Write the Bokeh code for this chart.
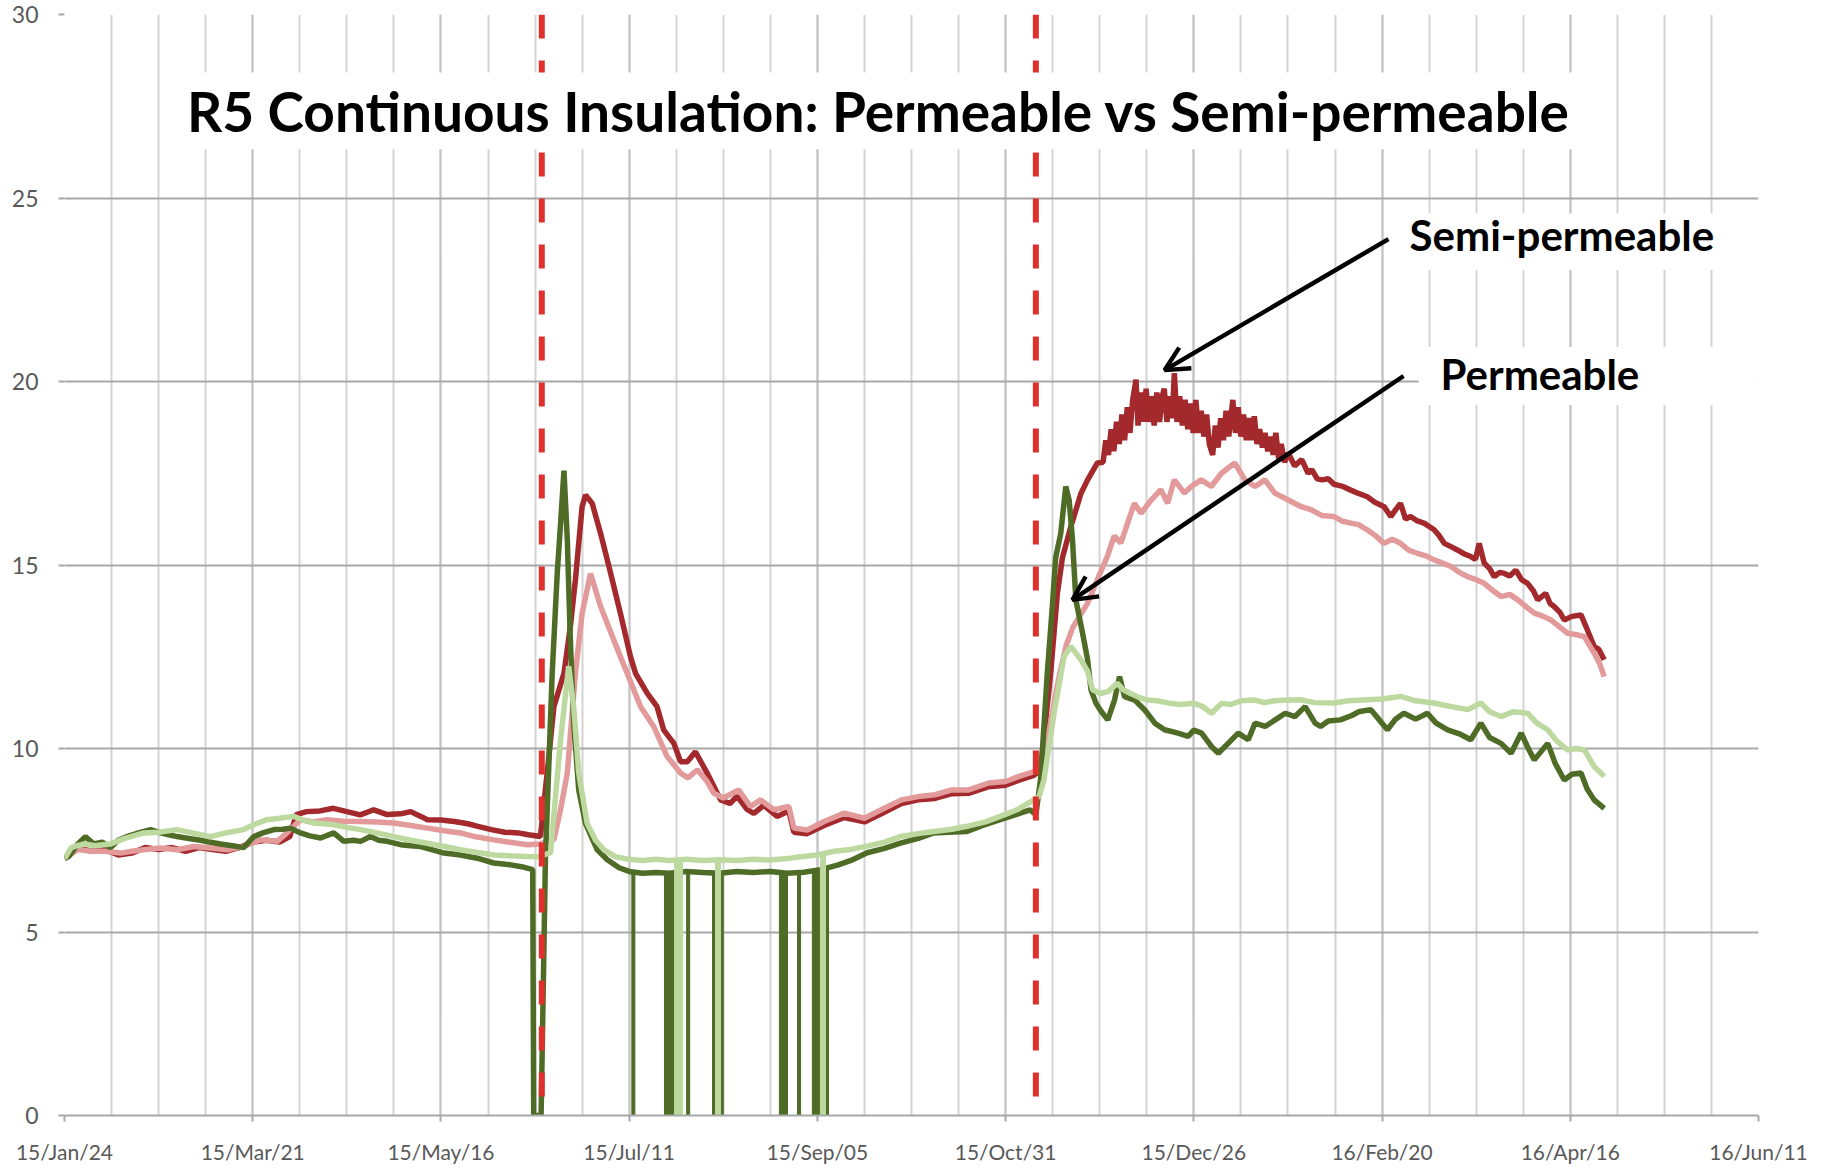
import numpy as np
from bokeh.plotting import figure
from bokeh.models import (Range1d, FixedTicker, DatetimeTickFormatter, Span,
                          BoxAnnotation, Label, Arrow, OpenHead, ColumnDataSource)
from bokeh.embed import file_html
from bokeh.resources import INLINE

# ---------------- data (day offset from 2015-01-24, value) ----------------
START = "2015-01-24"
tick_dates = ["2015-01-24", "2015-03-21", "2015-05-16", "2015-07-11", "2015-09-05",
              "2015-10-31", "2015-12-26", "2016-02-20", "2016-04-16", "2016-06-11"]
y_ticks = [0, 5, 10, 15, 20, 25, 30]
event_dates = ["2015-06-15", "2015-11-09"]

semi_dark = [(0,7.0),(4,7.3),(8,7.2),(12,7.25),(16,7.1),(20,7.15),(24,7.3),(28,7.25),(32,7.3),(36,7.2),
 (40,7.3),(44,7.25),(48,7.2),(52,7.3),(56,7.45),(60,7.5),(64,7.45),(67,7.6),(69,8.2),(72,8.28),(76,8.3),
 (80,8.37),(84,8.28),(88,8.19),(92,8.33),(96,8.2),(100,8.22),(103,8.28),(106,8.15),(108,8.06),(112,8.05),
 (116,8.01),(120,7.95),(123,7.88),(127,7.79),(131,7.72),(135,7.7),(138,7.65),(141.6,7.6),(143.6,9.33),
 (145.6,11.14),(148.6,12.05),(150.5,13.32),(152,14.59),(154,16.59),(155,16.91),(157,16.68),(159.5,15.86),
 (162.5,14.77),(165.4,13.68),(168.4,12.5),(169.9,12.05),(173.4,11.5),(176.3,11.14),(178.3,10.5),(181.3,10.14),
 (183.3,9.64),(185.3,9.64),(187.7,9.91),(191.2,9.33),(195.2,8.6),(198,8.5),(200.1,8.7),(203,8.35),(205.1,8.23),
 (208,8.45),(212,8.15),(215.5,8.3),(217,7.72),(221,7.68),(226,7.9),(232,8.12),(238,8.0),(243,8.22),(249,8.5),
 (254,8.6),(259,8.64),(264,8.77),(269,8.78),(275,8.96),(280,9.0),(284,9.14),(288.4,9.27),(290.4,9.42),
 (293.4,12.05),(295.4,14.23),(296.9,15.2),(299.4,16.04),(302.4,16.95),(304.4,17.32),(307.3,17.78),
 (309.0,17.8),(309.8,18.4),(310.6,18.0),(311.4,18.7),(312.2,18.1),(313.0,18.9),(313.8,18.3),(314.6,19.1),
 (315.4,18.4),(316.2,19.3),(317.0,18.6),(317.8,19.5),(318.8,20.05),(319.4,18.8),(320.2,19.7),(321.0,18.9),
 (321.8,19.8),(322.6,18.9),(323.4,19.6),(324.2,18.8),(325.0,19.7),(325.8,18.9),(326.6,19.6),(327.2,19.8),
 (328.0,18.9),(328.8,19.6),(329.6,19.0),(330.2,20.23),(331.0,18.9),(331.8,19.6),(332.6,18.8),(333.4,19.5),
 (334.2,18.7),(335.0,19.4),(335.8,18.6),(336.6,19.5),(337.4,18.6),(338.2,19.2),(339.0,18.5),(339.8,19.1),
 (340.6,18.3),(341.6,18.0),(342.4,18.8),(343.2,18.2),(344.0,19.0),(344.8,18.4),(345.6,19.2),(346.4,18.5),
 (347.6,19.5),(348.4,18.6),(349.2,19.3),(350.0,18.5),(350.8,19.1),(351.6,18.4),(352.4,19.0),(353.2,18.4),
 (354.0,19.05),(354.8,18.3),(355.6,18.7),(356.4,18.2),(357.2,18.6),(358.0,18.1),(358.8,18.5),(359.6,18.0),
 (360.4,18.6),(361.2,17.9),(362.0,18.3),(363.0,17.8),(364.1,18.05),
 (366,17.7),(368.1,17.87),(370,17.5),(371.1,17.6),(372.7,17.35),(374.1,17.32),(376,17.35),
 (377.7,17.2),(380,17.15),(382.7,17.04),(385,16.95),(387.6,16.86),(390,16.7),(392.6,16.59),(394.6,16.32),
 (396,16.5),(397.5,16.68),(399,16.25),(400.5,16.32),(402.5,16.2),(404.5,16.14),(407.5,15.96),(409,15.8),
 (410.5,15.59),(412.5,15.5),(414.4,15.41),(416.5,15.3),(418.4,15.23),(419.8,15.15),(420.9,15.59),(422.4,15.05),
 (424,14.9),(425.4,14.68),(427,14.8),(428.4,14.77),(430,14.7),(431.8,14.86),(433.5,14.6),(435.3,14.5),(437,14.3),
 (438.3,14.05),(440.7,14.23),(442,13.95),(443.2,13.87),(445,13.7),(446.2,13.5),(448.5,13.6),(451.2,13.64),
 (453.1,13.23),(455.1,12.78),(456.5,12.7),(458.1,12.42)]

semi_light = [(0,7.0),(4,7.25),(8,7.2),(12,7.2),(16.7,7.15),(20,7.2),(23.6,7.24),(28.6,7.29),(33.5,7.24),
 (38.5,7.33),(43.4,7.29),(48.4,7.24),(53.3,7.33),(58.3,7.51),(63.3,7.47),(66.2,7.7),(70.2,8.06),(74,8.0),
 (78.1,8.06),(83,8.02),(88.1,8.01),(93,8.0),(98,7.97),(103,7.9),(108,7.83),(113,7.76),(117.8,7.7),(122,7.6),
 (127.7,7.51),(132,7.45),(137.7,7.38),(141.6,7.4),(145.6,7.52),(147.5,8.3),(149.6,9.33),(152,12.05),(154,13.68),
 (156.5,14.77),(159.5,13.87),(163.4,12.96),(167.4,12.05),(171.4,11.14),(175.3,10.6),(179.3,9.78),(183.3,9.33),
 (185.5,9.2),(188.3,9.42),(191.2,9.1),(193.2,8.78),(196,8.65),(200.6,8.87),(204.1,8.42),(207.1,8.6),(211.1,8.33),
 (215.5,8.42),(217,7.83),(221,7.78),(226,8.01),(232,8.24),(238,8.1),(243,8.33),(249,8.6),(254,8.69),(259,8.74),
 (264,8.87),(269,8.87),(275,9.06),(280,9.1),(284,9.24),(288.4,9.37),(290.5,9.6),(292,10.0),(294,11.0),(296,12.0),
 (298,12.8),(300,13.3),(302,13.6),(304.4,13.96),(307.3,14.6),(310.3,15.24),(312.3,15.79),(314.3,15.6),
 (316.3,16.14),(318.3,16.68),(320.3,16.41),(323.3,16.77),(326.2,17.05),(328.2,16.68),(330.2,17.32),(333.2,16.96),
 (335.2,17.14),(338.2,17.32),(341.2,17.14),(344.2,17.5),(348.2,17.78),(351.2,17.32),(354.2,17.14),(357.1,17.32),
 (360.1,16.96),(364.1,16.77),(367.7,16.6),(371,16.5),(374,16.35),(377.7,16.32),(380,16.2),(382.7,16.14),
 (385,16.1),(387.6,15.96),(390,15.8),(392.6,15.59),(395,15.7),(397.5,15.59),(400,15.4),(402.5,15.32),(405,15.25),
 (407.5,15.14),(410,15.05),(412.5,14.96),(415,14.8),(417.5,14.68),(420,14.6),(422.4,14.5),(425,14.3),(427.4,14.14),
 (430,14.2),(432.4,14.05),(435,13.85),(437.3,13.69),(440,13.6),(442.3,13.5),(445,13.3),(447.2,13.14),(450,13.1),
 (452.2,13.05),(455.1,12.6),(456.8,12.3),(458.1,11.96)]

perm_dark = [(0,7.0),(1.3,7.06),(4,7.4),(6.2,7.6),(8.7,7.4),(11.2,7.45),(13.7,7.3),(16,7.5),(18.6,7.6),(22,7.7),
 (25.6,7.79),(28.6,7.7),(31,7.65),(33.5,7.6),(37,7.55),(40.5,7.5),(43,7.45),(46.4,7.4),(50,7.35),(53.3,7.3),
 (56.3,7.6),(59,7.7),(62.3,7.79),(65,7.8),(67.2,7.83),(70.2,7.7),(73,7.62),(76.2,7.56),(80.1,7.7),(83.1,7.47),
 (86,7.5),(88.1,7.47),(91,7.6),(93.5,7.5),(96,7.47),(100,7.38),(103,7.35),(106,7.33),(109,7.25),(112.9,7.15),
 (117.8,7.1),(122.8,7.01),(127.7,6.88),(132.7,6.83),(136,6.78),(139.3,6.7),(139.6,0.0),(141.8,0.0),(143.1,7.06),
 (145.1,12.05),(146.6,14.77),(147.6,16.14),(148.6,17.57),(149.6,15.68),(150.5,12.96),(151.5,10.69),(153,8.87),
 (155,7.96),(158.5,7.24),(161.5,6.97),(165,6.75),(168,6.65),(172,6.6),(176,6.62),(180,6.6),(185,6.65),(190,6.62),
 (195,6.6),(200,6.65),(205,6.62),(210,6.65),(215,6.6),(220,6.63),(225,6.7),(230,6.82),(234,6.95),(238.8,7.16),
 (244,7.28),(248.7,7.42),(254,7.55),(258.6,7.7),(263,7.72),(268.5,7.74),(273,7.9),(278.4,8.06),(283,8.2),
 (287.3,8.33),(289,8.2),(290.4,9.15),(292.4,12.05),(293.9,13.87),(294.9,15.2),(296.4,15.86),(297.9,17.14),
 (298.9,16.77),(299.9,15.68),(300.9,14.05),(302.9,13.14),(304.4,12.42),(305.4,11.6),(306.9,11.23),(308.5,11.0),
 (310.4,10.78),(312.4,11.32),(313.9,11.96),(315.4,11.41),(318.4,11.32),(321.4,11.05),(324.4,10.69),(327.3,10.51),
 (331.3,10.42),(334.3,10.33),(336,10.5),(338.3,10.42),(341.3,10.05),(343.3,9.87),(346.2,10.14),(349.2,10.42),
 (352.2,10.24),(354.2,10.69),(357.2,10.6),(360.2,10.78),(363.2,10.96),(366.1,10.87),(369.1,11.14),(372.1,10.69),
 (373.7,10.6),(376,10.75),(379.6,10.78),(383,10.9),(385,11.0),(388.6,11.06),(391,10.8),(393.6,10.51),(396,10.8),
 (398.5,10.96),(402,10.8),(405.5,10.96),(408,10.7),(411.5,10.51),(415,10.4),(418.4,10.24),(421.4,10.69),
 (424,10.3),(427.4,10.14),(430.4,9.87),(433.4,10.42),(435.5,10.0),(437.3,9.69),(441.3,10.14),(443.5,9.6),
 (446.2,9.14),(448.5,9.3),(451.2,9.33),(453,8.9),(455.1,8.6),(458.1,8.37)]

perm_light = [(0,7.0),(2,7.3),(3.7,7.35),(6,7.4),(9,7.35),(13.7,7.4),(18,7.55),(23.6,7.7),(28,7.72),(33.5,7.79),
 (38,7.7),(43.4,7.6),(48,7.7),(53.3,7.79),(57,7.95),(60.3,8.06),(64,8.1),(68.2,8.15),(71,8.05),(74.2,7.97),
 (77,7.95),(80.1,7.92),(84,7.85),(88.1,7.79),(93,7.7),(98,7.6),(103,7.5),(107.9,7.42),(113,7.33),(117.8,7.24),
 (122.8,7.17),(127.7,7.1),(132,7.08),(137.7,7.06),(141,7.05),(144.6,7.16),(147.6,10.24),(150,12.24),(151.5,11.14),
 (153,9.33),(155.5,7.96),(158,7.5),(160.5,7.24),(164,7.05),(168,6.98),(172,6.95),(176,6.98),(180,6.95),(185,6.98),
 (190,6.95),(195,6.97),(200,6.95),(205,6.98),(210,6.96),(215,7.0),(219,7.05),(224,7.1),(229,7.2),(234,7.25),
 (238.8,7.34),(244,7.45),(248.7,7.6),(254,7.68),(258.6,7.74),(264,7.8),(268.5,7.88),(274,8.0),(278.4,8.15),
 (283.4,8.33),(288.4,8.6),(290,8.7),(291.4,9.15),(294.4,10.96),(297.4,12.51),(299.4,12.78),(300.9,12.6),
 (302.5,12.4),(304.4,12.1),(305.9,11.6),(308.2,11.5),(310.5,11.55),(313.2,11.78),(315,11.6),(317.2,11.5),
 (319.5,11.4),(322.1,11.32),(325,11.3),(329.1,11.23),(332,11.2),(336.1,11.23),(338.5,11.15),(341.3,10.96),
 (344.2,11.23),(347,11.2),(350,11.3),(354.2,11.32),(357,11.25),(360,11.3),(364.1,11.32),(367.7,11.33),(372,11.25),
 (377.7,11.24),(382,11.3),(387.6,11.33),(392,11.35),(397.5,11.42),(402,11.3),(407.5,11.24),(412,11.15),
 (417.5,11.06),(421.4,11.24),(424,11.0),(427.4,10.87),(431,11.0),(435.3,10.96),(438,10.7),(441.3,10.51),
 (444,10.2),(447.2,9.96),(450,10.0),(452.2,9.96),(455.1,9.51),(458.1,9.24)]

# sensor dropouts (start day, end day, level before drop)
perm_dark_drops = [(168.8,169.7,6.62),(178.5,181.5,6.6),(185.1,186.0,6.65),(192.8,193.7,6.62),(195.2,196.0,6.6),
                   (212.7,215.1,6.62),(218.1,219.0,6.6),(222.5,224.9,6.62),(226.4,227.3,6.7)]
perm_light_drops = [(181.5,183.9,6.97),(193.7,195.2,6.97),(224.9,226.4,7.1)]

# ---------------- helpers ----------------
DAY = 86400000.0
base = float(np.datetime64(START, "ms").astype("int64"))

def ms(d):
    return base + np.asarray(d, dtype=float) * DAY

def dms(s):
    return float(np.datetime64(s, "ms").astype("int64"))

def src(pairs):
    d, v = zip(*pairs)
    return ColumnDataSource(dict(x=ms(d), y=list(v)))

def drop_src(rows):
    a, b, t = zip(*rows)
    return ColumnDataSource(dict(left=ms(a), right=ms(b), top=list(t), bottom=[0] * len(t)))

# ---------------- figure ----------------
x0, x1 = dms(tick_dates[0]), dms(tick_dates[-1])
p = figure(width=1818, height=1166, x_axis_type="datetime",
           x_range=Range1d(x0, x1), y_range=Range1d(0, 30),
           output_backend="svg", toolbar_location=None,
           min_border_left=64, min_border_right=60, min_border_top=14, min_border_bottom=50)
p.outline_line_color = None
p.background_fill_color = "white"
p.border_fill_color = "white"

major = [dms(s) for s in tick_dates]
minor = list(np.arange(x0, x1 + 1, 14 * DAY))
p.xaxis.ticker = FixedTicker(ticks=major, minor_ticks=minor)
p.xaxis.formatter = DatetimeTickFormatter(days="%y/%b/%d", months="%y/%b/%d", years="%y/%b/%d",
                                          strip_leading_zeros=False)
p.yaxis.ticker = FixedTicker(ticks=y_ticks)

for ax in (p.xaxis[0], p.yaxis[0]):
    ax.major_label_text_font = "Lato"
    ax.major_label_text_color = "#595959"
    ax.major_tick_in = 0
    ax.major_tick_out = 6
    ax.major_tick_line_color = "#a8a8a8"
    ax.major_tick_line_width = 2
    ax.minor_tick_line_color = None
p.xaxis.major_label_text_font_size = "21px"
p.yaxis.major_label_text_font_size = "23px"
p.xaxis.axis_line_color = "#a8a8a8"
p.xaxis.axis_line_width = 2
p.yaxis.axis_line_color = None
p.xaxis.major_label_standoff = 17
p.yaxis.major_label_standoff = 20

p.xgrid.grid_line_color = "#c4c4c4"
p.xgrid.grid_line_width = 2
p.xgrid.minor_grid_line_color = "#d4d4d4"
p.xgrid.minor_grid_line_width = 2
p.ygrid.grid_line_color = "#a8a8a8"
p.ygrid.grid_line_width = 2

# ---------------- series ----------------
LW = 5.5
p.line("x", "y", source=src(semi_dark), line_color="#a3292c", line_width=LW)
p.line("x", "y", source=src(semi_light), line_color="#e29a9b", line_width=LW)
p.line("x", "y", source=src(perm_dark), line_color="#4f6c27", line_width=LW)
p.quad(left="left", right="right", top="top", bottom="bottom", source=drop_src(perm_dark_drops),
       fill_color="#4f6c27", line_color="#4f6c27", line_width=1)
p.line("x", "y", source=src(perm_light), line_color="#bdd99f", line_width=LW)
p.quad(left="left", right="right", top="top", bottom="bottom", source=drop_src(perm_light_drops),
       fill_color="#bdd99f", line_color="#bdd99f", line_width=1)

# ---------------- annotations ----------------
for s in event_dates:
    p.add_layout(Span(location=dms(s), dimension="height", line_color="#e0302e",
                      line_width=6, line_dash="24 22"))

def box(d0, d1, v0, v1):
    p.add_layout(BoxAnnotation(left=float(ms(d0)), right=float(ms(d1)), bottom=v0, top=v1,
                               fill_color="white", fill_alpha=1.0, line_color=None, level="annotation"))

box(30.0, 457.0, 26.33, 28.42)
box(396.0, 504.0, 23.04, 24.58)
box(402.9, 504.0, 19.36, 20.94)

p.add_layout(Label(x=float(ms(242.2)), y=27.38, text="R5 Continuous Insulation: Permeable vs Semi-permeable",
                   text_font="Lato", text_font_style="bold", text_font_size="55px",
                   text_align="center", text_baseline="middle", text_color="black"))
p.add_layout(Label(x=float(ms(400.2)), y=23.99, text="Semi-permeable",
                   text_font="Lato", text_font_style="bold", text_font_size="42px",
                   text_align="left", text_baseline="middle", text_color="black"))
p.add_layout(Label(x=float(ms(409.4)), y=20.2, text="Permeable",
                   text_font="Lato", text_font_style="bold", text_font_size="42px",
                   text_align="left", text_baseline="middle", text_color="black"))

p.add_layout(Arrow(x_start=float(ms(393.9)), y_start=23.88, x_end=float(ms(327.3)), y_end=20.31,
                   line_width=4.5, line_color="black",
                   end=OpenHead(size=24, line_width=4.5, line_color="black")))
p.add_layout(Arrow(x_start=float(ms(398.4)), y_start=20.15, x_end=float(ms(299.9)), y_end=14.05,
                   line_width=4.5, line_color="black",
                   end=OpenHead(size=24, line_width=4.5, line_color="black")))

open("out.html", "w").write(file_html(p, INLINE))
